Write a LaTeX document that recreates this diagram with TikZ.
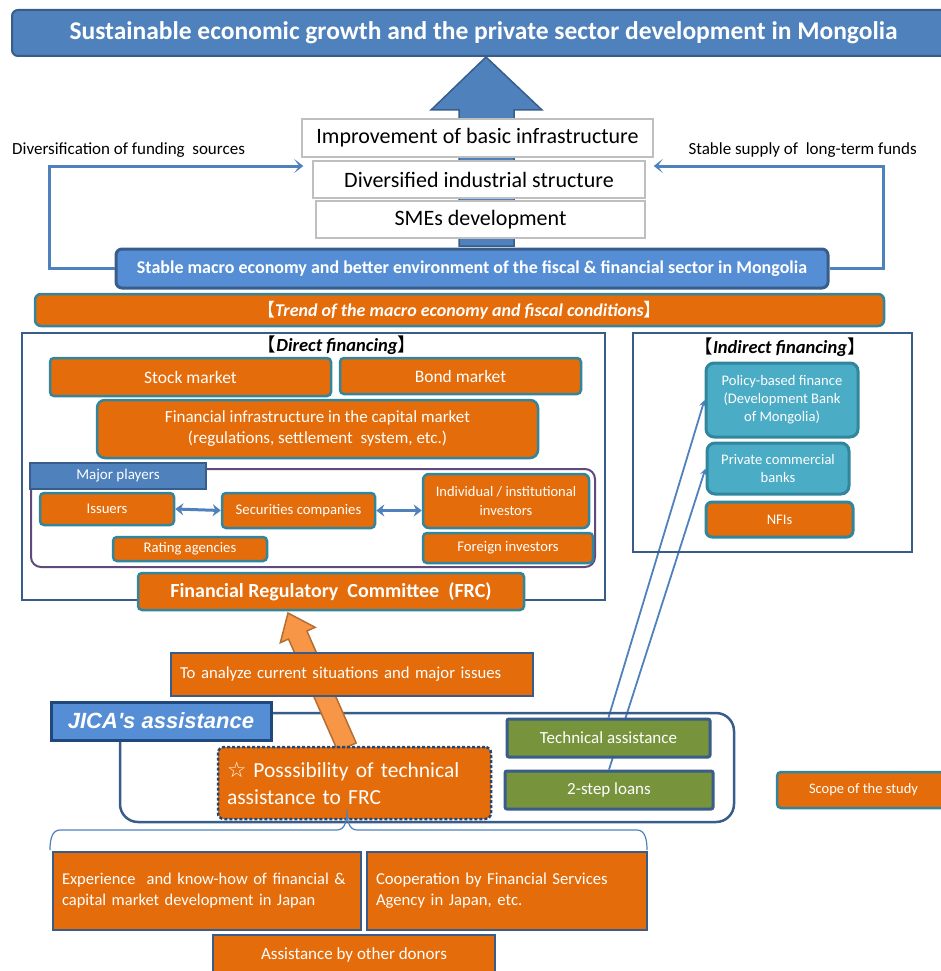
\documentclass[tikz,border=0pt]{standalone}
\usepackage{fontspec}
\setmainfont{Carlito}
\newfontfamily\cjk{Noto Sans CJK JP}
\newfontfamily\symfont{DejaVu Sans}
\newfontfamily\arialfont{Liberation Sans}
\usetikzlibrary{arrows.meta,backgrounds}
\definecolor{titleblue}{HTML}{4F81BD}
\definecolor{darkblue}{HTML}{385D8A}
\definecolor{navyline}{HTML}{1F497D}
\definecolor{macroblue}{HTML}{558ED5}
\definecolor{boxorange}{HTML}{E46C0A}
\definecolor{tealline}{HTML}{31859C}
\definecolor{cyanbox}{HTML}{4BACC6}
\definecolor{greenbox}{HTML}{77933C}
\definecolor{purpleline}{HTML}{604A7B}
\definecolor{lightorange}{HTML}{F79646}
\definecolor{brownline}{HTML}{B66D31}
\definecolor{grayline}{HTML}{BFBFBF}
\newcommand{\fsz}[2]{\fontsize{#1}{#2}\selectfont}
\newcommand{\openbr}{{\cjk\mdseries\upshape 【}}
\newcommand{\closebr}{{\cjk\mdseries\upshape 】}}

\begin{document}
\begin{tikzpicture}[x=1pt,y=-1pt,
  orbox/.style={draw=tealline, fill=boxorange, line width=2.5, rounded corners=4, text=white, align=center, inner sep=2},
  donorbox/.style={orbox, draw=darkblue, rounded corners=0},
  whitebox/.style={draw=grayline, fill=white, line width=1.5, font=\fsz{22}{26}},
  cyanbox/.style={draw=tealline, fill=cyanbox, line width=3, rounded corners=8, text=white, align=center, font=\fsz{14.6}{18}},
  greenbox/.style={draw=darkblue, fill=greenbox, line width=3, rounded corners=2, text=white, font=\fsz{17}{20}},
  frame/.style={draw=darkblue, line width=2.5},
  hd/.style={font=\fsz{18.5}{22}\bfseries\itshape, inner sep=0},
  fbline/.style={draw=titleblue, line width=3, -{Stealth[length=9pt, width=14pt, inset=5pt]}},
  thinline/.style={draw=titleblue, line width=1.8, -{Stealth[length=7pt, width=7pt, inset=3pt]}},
  dblarrow/.style={draw=titleblue, line width=3, {Stealth[length=8pt, width=12pt]}-{Stealth[length=8pt, width=12pt]}}]
\useasboundingbox (0,0) rectangle (940,971);

\draw[fill=titleblue, draw=darkblue, line width=1.5] (459,246) -- (459,110) -- (431,110) -- (486,57) -- (542,110) -- (514,110) -- (514,246) -- cycle;

\node(title) [draw=darkblue, fill=titleblue, line width=2, rounded corners=6, minimum width=943, minimum height=46, text=white, font=\fsz{25.5}{28}\bfseries] at (483.5,33) {Sustainable economic growth and the private sector development in Mongolia};
\node(infra) [whitebox, minimum width=351, minimum height=38] at (477.5,138) {Improvement of basic infrastructure};
\node(divers) [whitebox, minimum width=332, minimum height=37] at (479,179.5) {Diversified industrial structure};
\node(smes) [whitebox, minimum width=329, minimum height=37] at (480.5,219.5) {SMEs development};
\node(macro) [draw=darkblue, fill=macroblue, line width=3, rounded corners=6, minimum width=712, minimum height=39, text=white, font=\fsz{18}{22}\bfseries] at (472,268.5) {Stable macro economy and better environment of the fiscal \& financial sector in Mongolia};
\node(fundsrc) [anchor=west, inner sep=0, font=\fsz{17}{20}] at (12,150) {Diversification of funding\ \ sources};
\node(fundsup) [anchor=east, inner sep=0, font=\fsz{17}{20}] at (917,150) {Stable supply of\ \ long-term funds};
\draw[fbline] (macro.west) -- ++(-65,0) |- ([xshift=-9,yshift=13.5]divers.west);
\draw[fbline] (macro.east) -- ++(54,0) |- ([xshift=8,yshift=13.5]divers.east);
\node(trend) [orbox, rounded corners=6, minimum width=849, minimum height=32, font=\fsz{18}{22}\bfseries\itshape] at (459.5,310) {\openbr Trend of the macro economy and fiscal conditions\closebr};

\node(direct) [frame, minimum width=583, minimum height=267] at (313.5,466.5) {};
\node(directhd) [hd] at (337,345) {\openbr Direct financing\closebr};
\node(stock) [orbox, minimum width=281, minimum height=38, font=\fsz{17.5}{20}] at (190.5,377) {Stock market};
\node(bond) [orbox, minimum width=241, minimum height=36, font=\fsz{17.5}{20}] at (460.5,376) {Bond market};
\node(infracap) [orbox, rounded corners=8, minimum width=441, minimum height=58, font=\fsz{17}{21}] at (317.5,429) {Financial infrastructure in the capital market\\(regulations, settlement\ \ system, etc.)};
\node(playersbox) [draw=purpleline, line width=2, rounded corners=10, minimum width=564, minimum height=98] at (313,518) {};
\node(players) [draw=darkblue, fill=titleblue, line width=2, minimum width=176, minimum height=26, text=white, font=\fsz{15}{18}] at (118,476) {Major players};
\node(issuers) [orbox, minimum width=134, minimum height=32, font=\fsz{14.7}{18}] at (107,509) {Issuers};
\node(secur) [orbox, minimum width=153, minimum height=35, font=\fsz{14.7}{18}] at (298.5,510.5) {Securities companies};
\node(indiv) [orbox, rounded corners=6, minimum width=166, minimum height=54, font=\fsz{14.5}{19}] at (506,501) {Individual / institutional\\investors};
\node(rating) [orbox, minimum width=154, minimum height=24, font=\fsz{14.7}{18}] at (190,549) {Rating agencies};
\node(foreign) [orbox, minimum width=170, minimum height=30, font=\fsz{14.7}{18}] at (508,548) {Foreign investors};
\draw[dblarrow] (issuers.east) -- (secur.west);
\draw[dblarrow] (secur.east) -- (secur.east -| indiv.west);
\node(frc) [orbox, minimum width=386, minimum height=37, font=\fsz{20}{24}\bfseries] at (331,591.5) {Financial Regulatory\ \ Committee\ \ (FRC)};

\node(indirect) [frame, minimum width=279, minimum height=219] at (772.5,442.5) {};
\node(indirecthd) [hd] at (780,347) {\openbr Indirect financing\closebr};
\node(policy) [cyanbox, minimum width=152, minimum height=74] at (782,400) {Policy-based finance\\(Development Bank\\of Mongolia)};
\node(private) [cyanbox, minimum width=142, minimum height=51] at (778,468.5) {Private commercial\\banks};
\node(nfis) [orbox, rounded corners=6, line width=3, minimum width=147, minimum height=35, font=\fsz{14.6}{18}] at (779.5,519.5) {NFIs};

\node(jicabox) [frame, rounded corners=18, minimum width=614, minimum height=109] at (427,767.5) {};
\draw[fill=lightorange, draw=brownline, line width=1.5] (288,613) -- (315.1,627.3) -- (306.9,631) -- (356.2,743) -- (337.8,751) -- (288.5,639) -- (280.3,642.7) -- cycle;
\node(analyze) [donorbox, minimum height=43, text width=344, inner xsep=9, align=left, font=\fsz{16.7}{20}] at (352,674.5) {To analyze current situations and major issues};
\node(jica) [draw=navyline, fill=macroblue, line width=3, minimum width=220, minimum height=38, text=white, font=\arialfont\fsz{22}{26}\bfseries\itshape] at (161,721) {JICA's assistance};
\node(possib) [donorbox, draw=navyline, dash pattern=on 3pt off 2pt, rounded corners=6, minimum height=72, text width=255, inner xsep=9, align=left, font=\fsz{21.5}{27}] at (354.5,783) {{\symfont ☆} Posssibility of technical\\assistance to FRC};
\node(techa) [greenbox, minimum width=203, minimum height=38] at (608.5,738) {Technical assistance};
\node(steploans) [greenbox, minimum width=208, minimum height=38] at (609,790) {2-step loans};
\begin{pgfonlayer}{background}
\draw[thinline] (techa.north) -- (policy.west);
\draw[thinline] (steploans.north) -- (private.west);
\end{pgfonlayer}
\node(scope) [orbox, minimum width=173, minimum height=36, font=\fsz{14.5}{18}] at (863.5,790) {Scope of the study};

\draw[titleblue, line width=1.2] (50,850) to[out=90,in=180] (60,830) -- (337,830) to[out=0,in=-90] (347,810) to[out=-90,in=180] (357,830) -- (637,830) to[out=0,in=90] (647,850);
\node(exper) [donorbox, minimum height=78, text width=290, inner xsep=9, align=left, font=\fsz{16.5}{21}] at (207,891) {Experience\ \ and know-how of financial \&\\capital market development in Japan};
\node(coop) [donorbox, minimum height=78, text width=262, inner xsep=9, align=left, font=\fsz{16.7}{21}] at (507,891) {Cooperation by Financial Services\\Agency in Japan, etc.};
\node(donors) [donorbox, minimum width=282, minimum height=40, font=\fsz{17}{20}] at (354,955) {Assistance by other donors};
\end{tikzpicture}
\end{document}
